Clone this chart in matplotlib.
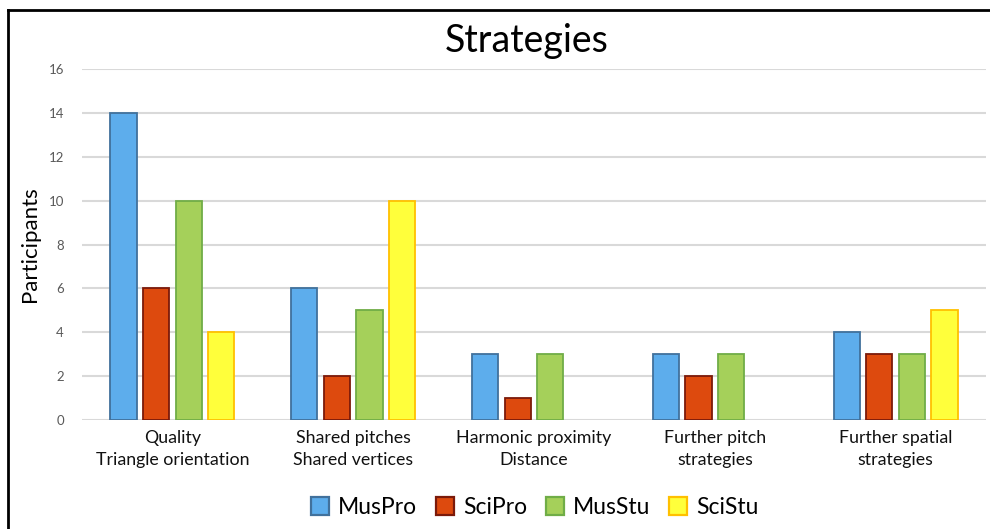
import matplotlib
matplotlib.use("Agg")
import matplotlib.pyplot as plt
import numpy as np
from matplotlib.lines import Line2D

categories = ["Quality\nTriangle orientation", "Shared pitches\nShared vertices",
              "Harmonic proximity\nDistance", "Further pitch\nstrategies",
              "Further spatial\nstrategies"]
series_names = ["MusPro", "SciPro", "MusStu", "SciStu"]
mus_pro = [14, 6, 3, 3, 4]
sci_pro = [6, 2, 1, 2, 3]
mus_stu = [10, 5, 3, 3, 3]
sci_stu = [4, 10, 0, 0, 5]
yticks = [0, 2, 4, 6, 8, 10, 12, 14, 16]

fills = ["#5DADEC", "#DD4A0E", "#A5D05A", "#FFFF3B"]
edges = ["#41719C", "#7B1A0A", "#70AD47", "#FFC000"]

plt.rcParams['font.family'] = ['Lato', 'DejaVu Sans']

fig = plt.figure(figsize=(9.9, 5.29), dpi=100)
ax = fig.add_axes([0.0828, 0.206, 0.9132, 0.6636])

x = np.arange(len(categories))
width = 0.145
step = 0.18
data = [mus_pro, sci_pro, mus_stu, sci_stu]
for i, vals in enumerate(data):
    offs = (i - 1.5) * step
    v = np.array(vals, dtype=float)
    xs = x + offs
    mask = v > 0
    ax.bar(xs[mask], v[mask], width=width, color=fills[i], edgecolor=edges[i],
           linewidth=1.3, zorder=3)

ax.set_xlim(-0.5, 4.5)
ax.set_ylim(0, 16)
ax.set_yticks(yticks)
ax.set_yticklabels([str(t) for t in yticks], color="#595959", fontsize=9.5)
ax.set_xticks(x)
ax.set_xticklabels(categories, fontsize=12.8, color="#111111", linespacing=1.5)
ax.tick_params(axis='both', length=0)
ax.tick_params(axis='y', pad=13)
ax.tick_params(axis='x', pad=7)
ax.grid(axis='y', color="#D9D9D9", linewidth=1.5, zorder=0)
ax.set_axisbelow(True)
for s in ax.spines.values():
    s.set_visible(False)

ax.set_ylabel("Participants", fontsize=16, color="#000000", labelpad=6)
fig.text(0.532, 0.922, "Strategies", ha='center', va='center', fontsize=27, color="#000000")

handles = [Line2D([0], [0], marker='s', linestyle='none', markersize=13,
                  markerfacecolor=fills[i], markeredgecolor=edges[i], markeredgewidth=1.6)
           for i in range(4)]
fig.legend(handles, series_names, loc='center', bbox_to_anchor=(0.536, 0.040), ncol=4,
           frameon=False, fontsize=16.5, handletextpad=0.05, columnspacing=0.45,
           handlelength=1.5)

# frame lines (left and top)
fig.add_artist(Line2D([0.0081, 0.0081], [0, 0.981], transform=fig.transFigure, color='black', linewidth=2))
fig.add_artist(Line2D([0.0081, 1.0], [0.981, 0.981], transform=fig.transFigure, color='black', linewidth=2))

fig.savefig("out.png", dpi=100)
